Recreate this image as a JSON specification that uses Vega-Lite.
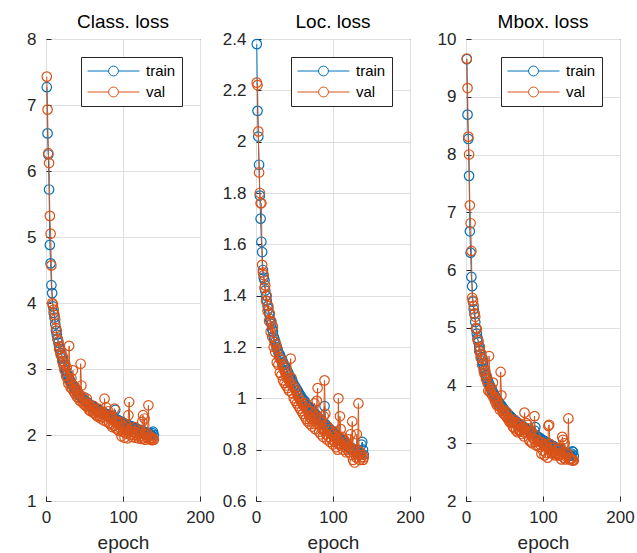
{
  "$schema": "https://vega.github.io/schema/vega-lite/v6.json",
  "padding": {"left": 10, "top": 12, "right": 0, "bottom": 0},
  "datasets": {
    "loss": [
      {"e":1,"ct":7.27,"cv":7.43,"lt":2.38,"lv":2.23,"mt":9.65,"mv":9.66},
      {"e":2,"ct":6.57,"cv":6.93,"lt":2.12,"lv":2.22,"mt":8.69,"mv":9.15},
      {"e":3,"ct":6.25,"cv":6.27,"lt":2.02,"lv":2.04,"mt":8.27,"mv":8.31},
      {"e":4,"ct":5.72,"cv":6.12,"lt":1.91,"lv":1.88,"mt":7.63,"mv":8.00},
      {"e":5,"ct":4.88,"cv":5.32,"lt":1.79,"lv":1.80,"mt":6.67,"mv":7.12},
      {"e":6,"ct":4.60,"cv":5.05,"lt":1.70,"lv":1.76,"mt":6.30,"mv":6.81},
      {"e":7,"ct":4.27,"cv":4.57,"lt":1.61,"lv":1.76,"mt":5.88,"mv":6.33},
      {"e":8,"ct":4.15,"cv":4.00,"lt":1.57,"lv":1.52,"mt":5.72,"mv":5.52},
      {"e":9,"ct":3.95,"cv":3.98,"lt":1.50,"lv":1.49,"mt":5.45,"mv":5.47},
      {"e":10,"ct":3.85,"cv":3.90,"lt":1.47,"lv":1.48,"mt":5.32,"mv":5.38},
      {"e":11,"ct":3.78,"cv":3.82,"lt":1.46,"lv":1.43,"mt":5.24,"mv":5.25},
      {"e":12,"ct":3.68,"cv":3.75,"lt":1.42,"lv":1.44,"mt":5.10,"mv":5.19},
      {"e":13,"ct":3.58,"cv":3.62,"lt":1.40,"lv":1.38,"mt":4.98,"mv":5.00},
      {"e":14,"ct":3.52,"cv":3.58,"lt":1.38,"lv":1.40,"mt":4.90,"mv":4.98},
      {"e":15,"ct":3.46,"cv":3.45,"lt":1.36,"lv":1.34,"mt":4.82,"mv":4.79},
      {"e":16,"ct":3.40,"cv":3.42,"lt":1.35,"lv":1.36,"mt":4.75,"mv":4.78},
      {"e":17,"ct":3.34,"cv":3.30,"lt":1.33,"lv":1.30,"mt":4.67,"mv":4.60},
      {"e":18,"ct":3.30,"cv":3.34,"lt":1.31,"lv":1.33,"mt":4.61,"mv":4.67},
      {"e":19,"ct":3.24,"cv":3.22,"lt":1.30,"lv":1.26,"mt":4.54,"mv":4.48},
      {"e":20,"ct":3.20,"cv":3.25,"lt":1.29,"lv":1.30,"mt":4.49,"mv":4.55},
      {"e":21,"ct":3.16,"cv":3.12,"lt":1.27,"lv":1.24,"mt":4.43,"mv":4.36},
      {"e":22,"ct":3.12,"cv":3.18,"lt":1.26,"lv":1.28,"mt":4.38,"mv":4.46},
      {"e":23,"ct":3.06,"cv":3.05,"lt":1.24,"lv":1.20,"mt":4.30,"mv":4.25},
      {"e":24,"ct":3.04,"cv":2.98,"lt":1.23,"lv":1.22,"mt":4.27,"mv":4.20},
      {"e":25,"ct":2.99,"cv":3.08,"lt":1.22,"lv":1.18,"mt":4.21,"mv":4.26},
      {"e":26,"ct":2.97,"cv":2.90,"lt":1.21,"lv":1.21,"mt":4.18,"mv":4.11},
      {"e":27,"ct":2.93,"cv":3.02,"lt":1.20,"lv":1.14,"mt":4.13,"mv":4.16},
      {"e":28,"ct":2.91,"cv":2.85,"lt":1.19,"lv":1.19,"mt":4.10,"mv":4.04},
      {"e":29,"ct":2.88,"cv":2.78,"lt":1.18,"lv":1.13,"mt":4.06,"mv":3.91},
      {"e":30,"ct":2.85,"cv":3.35,"lt":1.17,"lv":1.16,"mt":4.02,"mv":4.51},
      {"e":31,"ct":2.83,"cv":2.80,"lt":1.17,"lv":1.10,"mt":4.00,"mv":3.90},
      {"e":32,"ct":2.81,"cv":2.72,"lt":1.16,"lv":1.15,"mt":3.97,"mv":3.87},
      {"e":33,"ct":2.78,"cv":2.86,"lt":1.15,"lv":1.09,"mt":3.93,"mv":3.95},
      {"e":34,"ct":2.77,"cv":2.70,"lt":1.15,"lv":1.13,"mt":3.92,"mv":3.83},
      {"e":35,"ct":2.74,"cv":2.98,"lt":1.14,"lv":1.07,"mt":3.88,"mv":4.05},
      {"e":36,"ct":2.73,"cv":2.66,"lt":1.13,"lv":1.12,"mt":3.86,"mv":3.78},
      {"e":37,"ct":2.70,"cv":2.74,"lt":1.13,"lv":1.06,"mt":3.83,"mv":3.80},
      {"e":38,"ct":2.69,"cv":2.62,"lt":1.12,"lv":1.10,"mt":3.81,"mv":3.72},
      {"e":39,"ct":2.67,"cv":2.70,"lt":1.11,"lv":1.05,"mt":3.78,"mv":3.75},
      {"e":40,"ct":2.65,"cv":2.58,"lt":1.11,"lv":1.08,"mt":3.76,"mv":3.66},
      {"e":41,"ct":2.64,"cv":2.66,"lt":1.10,"lv":1.04,"mt":3.74,"mv":3.70},
      {"e":42,"ct":2.62,"cv":2.56,"lt":1.10,"lv":1.09,"mt":3.72,"mv":3.65},
      {"e":43,"ct":2.61,"cv":2.62,"lt":1.09,"lv":1.03,"mt":3.70,"mv":3.65},
      {"e":44,"ct":2.59,"cv":2.52,"lt":1.08,"lv":1.06,"mt":3.67,"mv":3.58},
      {"e":45,"ct":2.59,"cv":3.08,"lt":1.08,"lv":1.155,"mt":3.67,"mv":4.235},
      {"e":46,"ct":2.57,"cv":2.75,"lt":1.07,"lv":1.08,"mt":3.64,"mv":3.83},
      {"e":47,"ct":2.56,"cv":2.55,"lt":1.07,"lv":1.02,"mt":3.63,"mv":3.57},
      {"e":48,"ct":2.55,"cv":2.48,"lt":1.06,"lv":1.05,"mt":3.61,"mv":3.53},
      {"e":49,"ct":2.54,"cv":2.58,"lt":1.05,"lv":1.00,"mt":3.59,"mv":3.58},
      {"e":50,"ct":2.52,"cv":2.46,"lt":1.05,"lv":1.04,"mt":3.57,"mv":3.50},
      {"e":51,"ct":2.52,"cv":2.50,"lt":1.04,"lv":0.99,"mt":3.56,"mv":3.49},
      {"e":52,"ct":2.50,"cv":2.44,"lt":1.04,"lv":1.03,"mt":3.54,"mv":3.47},
      {"e":53,"ct":2.50,"cv":2.55,"lt":1.03,"lv":0.98,"mt":3.53,"mv":3.53},
      {"e":54,"ct":2.48,"cv":2.42,"lt":1.03,"lv":1.01,"mt":3.51,"mv":3.43},
      {"e":55,"ct":2.48,"cv":2.47,"lt":1.02,"lv":0.97,"mt":3.50,"mv":3.44},
      {"e":56,"ct":2.46,"cv":2.38,"lt":1.02,"lv":1.00,"mt":3.48,"mv":3.38},
      {"e":57,"ct":2.46,"cv":2.45,"lt":1.01,"lv":0.96,"mt":3.47,"mv":3.41},
      {"e":58,"ct":2.45,"cv":2.36,"lt":1.01,"lv":0.99,"mt":3.46,"mv":3.35},
      {"e":59,"ct":2.44,"cv":2.42,"lt":1.00,"lv":0.95,"mt":3.44,"mv":3.37},
      {"e":60,"ct":2.43,"cv":2.40,"lt":1.00,"lv":0.98,"mt":3.43,"mv":3.38},
      {"e":61,"ct":2.43,"cv":2.34,"lt":0.99,"lv":0.94,"mt":3.42,"mv":3.28},
      {"e":62,"ct":2.42,"cv":2.44,"lt":0.99,"lv":0.97,"mt":3.41,"mv":3.41},
      {"e":63,"ct":2.41,"cv":2.33,"lt":0.99,"lv":0.93,"mt":3.40,"mv":3.26},
      {"e":64,"ct":2.40,"cv":2.38,"lt":0.98,"lv":0.98,"mt":3.38,"mv":3.36},
      {"e":65,"ct":2.40,"cv":2.30,"lt":0.98,"lv":0.92,"mt":3.38,"mv":3.22},
      {"e":66,"ct":2.39,"cv":2.36,"lt":0.97,"lv":0.96,"mt":3.36,"mv":3.32},
      {"e":67,"ct":2.38,"cv":2.28,"lt":0.97,"lv":0.91,"mt":3.35,"mv":3.19},
      {"e":68,"ct":2.38,"cv":2.40,"lt":0.97,"lv":0.95,"mt":3.35,"mv":3.35},
      {"e":69,"ct":2.37,"cv":2.29,"lt":0.96,"lv":0.93,"mt":3.33,"mv":3.22},
      {"e":70,"ct":2.36,"cv":2.33,"lt":0.96,"lv":0.90,"mt":3.32,"mv":3.23},
      {"e":71,"ct":2.36,"cv":2.25,"lt":0.96,"lv":0.95,"mt":3.32,"mv":3.20},
      {"e":72,"ct":2.35,"cv":2.35,"lt":0.95,"lv":0.92,"mt":3.30,"mv":3.27},
      {"e":73,"ct":2.35,"cv":2.27,"lt":0.95,"lv":0.89,"mt":3.30,"mv":3.16},
      {"e":74,"ct":2.34,"cv":2.31,"lt":0.95,"lv":0.94,"mt":3.29,"mv":3.25},
      {"e":75,"ct":2.33,"cv":2.22,"lt":0.94,"lv":0.90,"mt":3.27,"mv":3.12},
      {"e":76,"ct":2.33,"cv":2.55,"lt":0.94,"lv":0.98,"mt":3.27,"mv":3.53},
      {"e":77,"ct":2.32,"cv":2.30,"lt":0.94,"lv":0.88,"mt":3.26,"mv":3.18},
      {"e":78,"ct":2.32,"cv":2.42,"lt":0.93,"lv":0.93,"mt":3.25,"mv":3.35},
      {"e":79,"ct":2.31,"cv":2.20,"lt":0.93,"lv":0.99,"mt":3.24,"mv":3.19},
      {"e":80,"ct":2.30,"cv":2.28,"lt":0.93,"lv":1.04,"mt":3.23,"mv":3.32},
      {"e":81,"ct":2.30,"cv":2.36,"lt":0.92,"lv":0.90,"mt":3.22,"mv":3.26},
      {"e":82,"ct":2.29,"cv":2.18,"lt":0.92,"lv":0.87,"mt":3.21,"mv":3.05},
      {"e":83,"ct":2.29,"cv":2.26,"lt":0.92,"lv":0.92,"mt":3.21,"mv":3.18},
      {"e":84,"ct":2.28,"cv":2.16,"lt":0.91,"lv":0.86,"mt":3.19,"mv":3.02},
      {"e":85,"ct":2.27,"cv":2.30,"lt":0.91,"lv":0.91,"mt":3.18,"mv":3.21},
      {"e":86,"ct":2.27,"cv":2.12,"lt":0.91,"lv":0.88,"mt":3.18,"mv":3.00},
      {"e":87,"ct":2.26,"cv":2.24,"lt":0.90,"lv":0.85,"mt":3.16,"mv":3.09},
      {"e":88,"ct":2.26,"cv":2.14,"lt":0.90,"lv":0.93,"mt":3.16,"mv":3.07},
      {"e":89,"ct":2.25,"cv":2.40,"lt":0.97,"lv":1.07,"mt":3.22,"mv":3.47},
      {"e":90,"ct":2.38,"cv":2.20,"lt":0.90,"lv":0.94,"mt":3.28,"mv":3.14},
      {"e":91,"ct":2.24,"cv":2.10,"lt":0.89,"lv":0.86,"mt":3.13,"mv":2.96},
      {"e":92,"ct":2.23,"cv":2.22,"lt":0.89,"lv":0.84,"mt":3.12,"mv":3.06},
      {"e":93,"ct":2.23,"cv":2.08,"lt":0.89,"lv":0.89,"mt":3.12,"mv":2.97},
      {"e":94,"ct":2.22,"cv":2.18,"lt":0.88,"lv":0.85,"mt":3.10,"mv":3.03},
      {"e":95,"ct":2.21,"cv":2.06,"lt":0.88,"lv":0.88,"mt":3.09,"mv":2.94},
      {"e":96,"ct":2.21,"cv":2.20,"lt":0.88,"lv":0.83,"mt":3.09,"mv":3.03},
      {"e":97,"ct":2.20,"cv":2.10,"lt":0.87,"lv":0.87,"mt":3.07,"mv":2.97},
      {"e":98,"ct":2.20,"cv":1.98,"lt":0.87,"lv":0.84,"mt":3.07,"mv":2.82},
      {"e":99,"ct":2.19,"cv":2.15,"lt":0.87,"lv":0.86,"mt":3.06,"mv":3.01},
      {"e":100,"ct":2.18,"cv":2.05,"lt":0.87,"lv":0.82,"mt":3.05,"mv":2.87},
      {"e":101,"ct":2.18,"cv":2.12,"lt":0.86,"lv":0.85,"mt":3.04,"mv":2.97},
      {"e":102,"ct":2.17,"cv":1.96,"lt":0.86,"lv":0.83,"mt":3.03,"mv":2.79},
      {"e":103,"ct":2.17,"cv":2.08,"lt":0.86,"lv":0.87,"mt":3.03,"mv":2.95},
      {"e":104,"ct":2.16,"cv":2.02,"lt":0.85,"lv":0.81,"mt":3.01,"mv":2.83},
      {"e":105,"ct":2.16,"cv":2.14,"lt":0.85,"lv":0.84,"mt":3.01,"mv":2.98},
      {"e":106,"ct":2.15,"cv":1.95,"lt":0.85,"lv":0.80,"mt":3.00,"mv":2.75},
      {"e":107,"ct":2.15,"cv":2.30,"lt":0.85,"lv":1.00,"mt":3.00,"mv":3.30},
      {"e":108,"ct":2.14,"cv":2.50,"lt":0.84,"lv":0.82,"mt":2.98,"mv":3.32},
      {"e":109,"ct":2.14,"cv":2.06,"lt":0.84,"lv":0.93,"mt":2.98,"mv":2.99},
      {"e":110,"ct":2.13,"cv":2.00,"lt":0.84,"lv":0.88,"mt":2.97,"mv":2.88},
      {"e":111,"ct":2.13,"cv":2.10,"lt":0.84,"lv":0.82,"mt":2.97,"mv":2.92},
      {"e":112,"ct":2.12,"cv":1.97,"lt":0.83,"lv":0.85,"mt":2.95,"mv":2.82},
      {"e":113,"ct":2.12,"cv":2.05,"lt":0.83,"lv":0.80,"mt":2.95,"mv":2.85},
      {"e":114,"ct":2.11,"cv":2.00,"lt":0.83,"lv":0.84,"mt":2.94,"mv":2.84},
      {"e":115,"ct":2.11,"cv":2.12,"lt":0.83,"lv":0.81,"mt":2.94,"mv":2.93},
      {"e":116,"ct":2.10,"cv":1.96,"lt":0.82,"lv":0.83,"mt":2.92,"mv":2.79},
      {"e":117,"ct":2.10,"cv":2.04,"lt":0.82,"lv":0.79,"mt":2.92,"mv":2.83},
      {"e":118,"ct":2.09,"cv":2.00,"lt":0.82,"lv":0.82,"mt":2.91,"mv":2.82},
      {"e":119,"ct":2.09,"cv":2.08,"lt":0.82,"lv":0.80,"mt":2.91,"mv":2.88},
      {"e":120,"ct":2.08,"cv":1.95,"lt":0.81,"lv":0.84,"mt":2.89,"mv":2.79},
      {"e":121,"ct":2.08,"cv":2.02,"lt":0.81,"lv":0.79,"mt":2.89,"mv":2.81},
      {"e":122,"ct":2.07,"cv":1.98,"lt":0.81,"lv":0.81,"mt":2.88,"mv":2.79},
      {"e":123,"ct":2.07,"cv":2.06,"lt":0.81,"lv":0.86,"mt":2.88,"mv":2.92},
      {"e":124,"ct":2.06,"cv":1.94,"lt":0.80,"lv":0.78,"mt":2.86,"mv":2.72},
      {"e":125,"ct":2.06,"cv":2.20,"lt":0.80,"lv":0.91,"mt":2.86,"mv":3.11},
      {"e":126,"ct":2.05,"cv":2.30,"lt":0.80,"lv":0.76,"mt":2.85,"mv":3.06},
      {"e":127,"ct":2.05,"cv":1.95,"lt":0.80,"lv":0.80,"mt":2.85,"mv":2.75},
      {"e":128,"ct":2.04,"cv":2.25,"lt":0.80,"lv":0.75,"mt":2.84,"mv":3.00},
      {"e":129,"ct":2.04,"cv":1.93,"lt":0.79,"lv":0.79,"mt":2.83,"mv":2.72},
      {"e":130,"ct":2.04,"cv":2.00,"lt":0.79,"lv":0.77,"mt":2.83,"mv":2.77},
      {"e":131,"ct":2.03,"cv":1.96,"lt":0.79,"lv":0.86,"mt":2.82,"mv":2.82},
      {"e":132,"ct":2.03,"cv":2.02,"lt":0.79,"lv":0.80,"mt":2.82,"mv":2.82},
      {"e":133,"ct":2.02,"cv":2.45,"lt":0.79,"lv":0.98,"mt":2.81,"mv":3.43},
      {"e":134,"ct":2.02,"cv":1.94,"lt":0.78,"lv":0.78,"mt":2.80,"mv":2.72},
      {"e":135,"ct":2.01,"cv":1.98,"lt":0.78,"lv":0.76,"mt":2.79,"mv":2.74},
      {"e":136,"ct":2.01,"cv":1.93,"lt":0.78,"lv":0.79,"mt":2.79,"mv":2.72},
      {"e":137,"ct":2.00,"cv":1.96,"lt":0.82,"lv":0.77,"mt":2.82,"mv":2.73},
      {"e":138,"ct":2.03,"cv":1.92,"lt":0.83,"lv":0.78,"mt":2.86,"mv":2.70},
      {"e":139,"ct":2.05,"cv":1.95,"lt":0.80,"lv":0.76,"mt":2.85,"mv":2.71},
      {"e":140,"ct":2.00,"cv":1.93,"lt":0.78,"lv":0.77,"mt":2.78,"mv":2.70}
    ]
  },
  "data": {"name": "loss"},
  "spacing": 5,
  "resolve": {"scale": {"color": "independent"}, "legend": {"color": "independent"}},
  "hconcat": [
    {
      "title": "Class. loss",
      "width": 154, "height": 462,
      "transform": [{"fold": ["ct", "cv"], "as": ["k", "v"]}],
      "encoding": {
        "x": {"field": "e", "type": "quantitative", "scale": {"domain": [0, 200], "nice": false}, "axis": {"values": [0, 100, 200], "title": "epoch"}},
        "y": {"field": "v", "type": "quantitative", "scale": {"domain": [1, 8], "nice": false, "zero": false}, "axis": {"values": [1, 2, 3, 4, 5, 6, 7, 8], "title": null}},
        "color": {"field": "k", "type": "nominal", "scale": {"domain": ["ct", "cv"], "range": ["#0072BD", "#D95319"]},
          "legend": {"title": null, "orient": "top-right", "offset": 18, "labelExpr": "indexof(datum.label,'t')==1 ? 'train' : 'val'"}}
      },
      "layer": [
        {"transform": [{"filter": "datum.k == 'ct'"}], "mark": {"type": "line", "strokeWidth": 1, "point": {"filled": false, "size": 90, "strokeWidth": 1.2}}},
        {"transform": [{"filter": "datum.k == 'cv'"}], "mark": {"type": "line", "strokeWidth": 1, "point": {"filled": false, "size": 90, "strokeWidth": 1.2}}}
      ]
    },
    {
      "title": "Loc. loss",
      "width": 154, "height": 462,
      "transform": [{"fold": ["lt", "lv"], "as": ["k", "v"]}],
      "encoding": {
        "x": {"field": "e", "type": "quantitative", "scale": {"domain": [0, 200], "nice": false}, "axis": {"values": [0, 100, 200], "title": "epoch"}},
        "y": {"field": "v", "type": "quantitative", "scale": {"domain": [0.6, 2.4], "nice": false, "zero": false}, "axis": {"values": [0.6, 0.8, 1, 1.2, 1.4, 1.6, 1.8, 2, 2.2, 2.4], "format": "~g", "title": null}},
        "color": {"field": "k", "type": "nominal", "scale": {"domain": ["lt", "lv"], "range": ["#0072BD", "#D95319"]},
          "legend": {"title": null, "orient": "top-right", "offset": 18, "labelExpr": "indexof(datum.label,'t')==1 ? 'train' : 'val'"}}
      },
      "layer": [
        {"transform": [{"filter": "datum.k == 'lt'"}], "mark": {"type": "line", "strokeWidth": 1, "point": {"filled": false, "size": 90, "strokeWidth": 1.2}}},
        {"transform": [{"filter": "datum.k == 'lv'"}], "mark": {"type": "line", "strokeWidth": 1, "point": {"filled": false, "size": 90, "strokeWidth": 1.2}}}
      ]
    },
    {
      "title": "Mbox. loss",
      "width": 154, "height": 462,
      "transform": [{"fold": ["mt", "mv"], "as": ["k", "v"]}],
      "encoding": {
        "x": {"field": "e", "type": "quantitative", "scale": {"domain": [0, 200], "nice": false}, "axis": {"values": [0, 100, 200], "title": "epoch"}},
        "y": {"field": "v", "type": "quantitative", "scale": {"domain": [2, 10], "nice": false, "zero": false}, "axis": {"values": [2, 3, 4, 5, 6, 7, 8, 9, 10], "title": null}},
        "color": {"field": "k", "type": "nominal", "scale": {"domain": ["mt", "mv"], "range": ["#0072BD", "#D95319"]},
          "legend": {"title": null, "orient": "top-right", "offset": 18, "labelExpr": "indexof(datum.label,'t')==1 ? 'train' : 'val'"}}
      },
      "layer": [
        {"transform": [{"filter": "datum.k == 'mt'"}], "mark": {"type": "line", "strokeWidth": 1, "point": {"filled": false, "size": 90, "strokeWidth": 1.2}}},
        {"transform": [{"filter": "datum.k == 'mv'"}], "mark": {"type": "line", "strokeWidth": 1, "point": {"filled": false, "size": 90, "strokeWidth": 1.2}}}
      ]
    }
  ],
  "config": {
    "font": "Liberation Sans",
    "view": {"stroke": "#262626", "strokeWidth": 1},
    "axis": {
      "labelFont": "Liberation Sans", "labelFontSize": 17, "labelColor": "#262626", "labelFlush": false,
      "titleFont": "Liberation Sans", "titleFontSize": 19, "titleFontWeight": "normal", "titleColor": "#262626",
      "gridColor": "#dfdfdf", "gridWidth": 1, "gridOpacity": 1,
      "domain": false, "tickColor": "#262626", "tickSize": -5, "titlePadding": 8
    },
    "axisX": {"labelPadding": 13},
    "axisY": {"minExtent": 35, "maxExtent": 35, "labelPadding": 15},
    "title": {"font": "Liberation Sans", "fontSize": 19, "fontWeight": "normal", "color": "#000000", "offset": -1.5},
    "legend": {
      "symbolType": "M-1,0H-0.19M0.19,0H1M-0.19,0A0.19,0.19,0,1,1,0.19,0A0.19,0.19,0,1,1,-0.19,0Z",
      "symbolSize": 2704, "symbolStrokeWidth": 1, "symbolFillColor": "transparent",
      "clipHeight": 16, "rowPadding": 5, "padding": 6,
      "strokeColor": "#262626", "fillColor": "#ffffff",
      "labelFont": "Liberation Sans", "labelFontSize": 15, "labelOffset": 6, "labelColor": "#000000"
    }
  }
}
